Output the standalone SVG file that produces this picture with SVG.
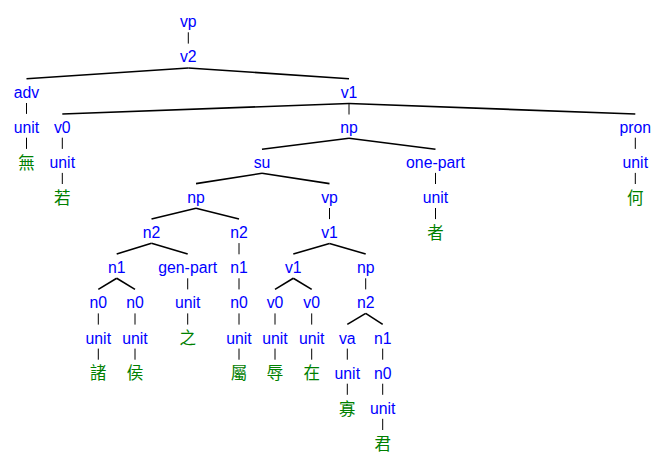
<svg xmlns="http://www.w3.org/2000/svg" width="667" height="462" viewBox="0 0 667 462">
<style>
text{font-family:"Liberation Sans",Arial,Helvetica,sans-serif;font-size:15.8px;text-anchor:middle;fill:#0000ff}
text.w{font-family:"Noto Sans CJK TC","Noto Sans CJK SC",sans-serif;font-size:16.5px;fill:#008000}
.c line{stroke:#000;fill:none}
.c .v{stroke-width:1}
.c .d{stroke-width:1.6}
</style>
<rect width="667" height="462" fill="#fff"/>
<g class="c" id="connectors">
<line class="v" x1="188.3" y1="32.3" x2="188.3" y2="43.6"/>
<line class="d" x1="188.3" y1="68" x2="26.5" y2="78.8"/>
<line class="d" x1="188.3" y1="68" x2="349" y2="78.8"/>
<line class="v" x1="26.5" y1="103" x2="26.5" y2="113.9"/>
<line class="d" x1="349" y1="103.5" x2="62.3" y2="114"/>
<line class="d" x1="349" y1="103.5" x2="635.3" y2="114"/>
<line class="v" x1="349" y1="103.5" x2="349" y2="114.5"/>
<line class="v" x1="26.5" y1="137.7" x2="26.5" y2="148.9"/>
<line class="v" x1="62.3" y1="137.7" x2="62.3" y2="148.9"/>
<line class="d" x1="349" y1="138.3" x2="262" y2="149.2"/>
<line class="d" x1="349" y1="138.3" x2="435.5" y2="149.2"/>
<line class="v" x1="635.3" y1="137.7" x2="635.3" y2="148.9"/>
<line class="v" x1="62.3" y1="172.9" x2="62.3" y2="184"/>
<line class="d" x1="262" y1="173.3" x2="196" y2="183.6"/>
<line class="d" x1="262" y1="173.3" x2="329.5" y2="183.6"/>
<line class="v" x1="435.5" y1="172.9" x2="435.5" y2="184"/>
<line class="v" x1="635.3" y1="172.9" x2="635.3" y2="184"/>
<line class="d" x1="196" y1="208.3" x2="151.5" y2="219"/>
<line class="d" x1="196" y1="208.3" x2="239" y2="219"/>
<line class="v" x1="329.5" y1="208" x2="329.5" y2="219.1"/>
<line class="v" x1="435.5" y1="208" x2="435.5" y2="219.1"/>
<line class="d" x1="151.5" y1="243.3" x2="116.7" y2="254.1"/>
<line class="d" x1="151.5" y1="243.3" x2="187.7" y2="254.1"/>
<line class="v" x1="239" y1="243.1" x2="239" y2="254.3"/>
<line class="d" x1="329.5" y1="243.5" x2="293.3" y2="254.1"/>
<line class="d" x1="329.5" y1="243.5" x2="365.7" y2="254.1"/>
<line class="d" x1="116.7" y1="278.3" x2="98.3" y2="289.4"/>
<line class="d" x1="116.7" y1="278.3" x2="135" y2="289.4"/>
<line class="v" x1="187.7" y1="278.3" x2="187.7" y2="289.4"/>
<line class="v" x1="239" y1="278.3" x2="239" y2="289.4"/>
<line class="d" x1="293.3" y1="278.3" x2="275" y2="289.4"/>
<line class="d" x1="293.3" y1="278.3" x2="311.7" y2="289.4"/>
<line class="v" x1="365.7" y1="278.3" x2="365.7" y2="289.4"/>
<line class="v" x1="98.3" y1="313.4" x2="98.3" y2="324.6"/>
<line class="v" x1="135" y1="313.4" x2="135" y2="324.6"/>
<line class="v" x1="187.7" y1="313.4" x2="187.7" y2="324.6"/>
<line class="v" x1="239" y1="313.4" x2="239" y2="324.6"/>
<line class="v" x1="275" y1="313.4" x2="275" y2="324.6"/>
<line class="v" x1="311.7" y1="313.4" x2="311.7" y2="324.6"/>
<line class="d" x1="365.7" y1="313.4" x2="347.3" y2="324.4"/>
<line class="d" x1="365.7" y1="313.4" x2="382.7" y2="324.4"/>
<line class="v" x1="98.3" y1="348.6" x2="98.3" y2="359.7"/>
<line class="v" x1="135" y1="348.6" x2="135" y2="359.7"/>
<line class="v" x1="239" y1="348.6" x2="239" y2="359.7"/>
<line class="v" x1="275" y1="348.6" x2="275" y2="359.7"/>
<line class="v" x1="311.7" y1="348.6" x2="311.7" y2="359.7"/>
<line class="v" x1="347.3" y1="348.6" x2="347.3" y2="359.7"/>
<line class="v" x1="382.7" y1="348.6" x2="382.7" y2="359.7"/>
<line class="v" x1="347.3" y1="383.7" x2="347.3" y2="394.8"/>
<line class="v" x1="382.7" y1="383.7" x2="382.7" y2="394.8"/>
<line class="v" x1="382.7" y1="418.8" x2="382.7" y2="430"/>
</g>
<g id="n-vp"><text x="188.3" y="27.3">vp</text></g>
<g id="n-v2"><text x="188.3" y="62.4">v2</text></g>
<g id="n-adv"><text x="26.5" y="97.6">adv</text></g>
<g id="n-v1a"><text x="349" y="97.6">v1</text></g>
<g id="n-unit-adv"><text x="26.5" y="132.7">unit</text></g>
<g id="n-v0a"><text x="62.3" y="132.7">v0</text></g>
<g id="n-npa"><text x="349" y="132.7">np</text></g>
<g id="n-pron"><text x="635.3" y="132.7">pron</text></g>
<g id="n-w-wu"><text class="w" x="26.5" y="168.6">無</text></g>
<g id="n-unit-v0a"><text x="62.3" y="167.9">unit</text></g>
<g id="n-su"><text x="262" y="167.9">su</text></g>
<g id="n-onepart"><text x="435.5" y="167.9">one-part</text></g>
<g id="n-unit-pron"><text x="635.3" y="167.9">unit</text></g>
<g id="n-w-ruo"><text class="w" x="62.3" y="203.7">若</text></g>
<g id="n-npb"><text x="196" y="203">np</text></g>
<g id="n-vpb"><text x="329.5" y="203">vp</text></g>
<g id="n-unit-onepart"><text x="435.5" y="203">unit</text></g>
<g id="n-w-he"><text class="w" x="635.3" y="203.7">何</text></g>
<g id="n-n2a"><text x="151.5" y="238.1">n2</text></g>
<g id="n-n2b"><text x="239" y="238.1">n2</text></g>
<g id="n-v1b"><text x="329.5" y="238.1">v1</text></g>
<g id="n-w-zhe"><text class="w" x="435.5" y="238.8">者</text></g>
<g id="n-n1a"><text x="116.7" y="273.3">n1</text></g>
<g id="n-genpart"><text x="187.7" y="273.3">gen-part</text></g>
<g id="n-n1b"><text x="239" y="273.3">n1</text></g>
<g id="n-v1c"><text x="293.3" y="273.3">v1</text></g>
<g id="n-npc"><text x="365.7" y="273.3">np</text></g>
<g id="n-n0a"><text x="98.3" y="308.4">n0</text></g>
<g id="n-n0b"><text x="135" y="308.4">n0</text></g>
<g id="n-unit-genpart"><text x="187.7" y="308.4">unit</text></g>
<g id="n-n0c"><text x="239" y="308.4">n0</text></g>
<g id="n-v0b"><text x="275" y="308.4">v0</text></g>
<g id="n-v0c"><text x="311.7" y="308.4">v0</text></g>
<g id="n-n2c"><text x="365.7" y="308.4">n2</text></g>
<g id="n-unit-n0a"><text x="98.3" y="343.6">unit</text></g>
<g id="n-unit-n0b"><text x="135" y="343.6">unit</text></g>
<g id="n-w-zhi"><text class="w" x="187.7" y="344.3">之</text></g>
<g id="n-unit-n0c"><text x="239" y="343.6">unit</text></g>
<g id="n-unit-v0b"><text x="275" y="343.6">unit</text></g>
<g id="n-unit-v0c"><text x="311.7" y="343.6">unit</text></g>
<g id="n-va"><text x="347.3" y="343.6">va</text></g>
<g id="n-n1c"><text x="382.7" y="343.6">n1</text></g>
<g id="n-w-zhu"><text class="w" x="98.3" y="379.4">諸</text></g>
<g id="n-w-hou"><text class="w" x="135" y="379.4">侯</text></g>
<g id="n-w-shu"><text class="w" x="239" y="379.4">屬</text></g>
<g id="n-w-ru"><text class="w" x="275" y="379.4">辱</text></g>
<g id="n-w-zai"><text class="w" x="311.7" y="379.4">在</text></g>
<g id="n-unit-va"><text x="347.3" y="378.7">unit</text></g>
<g id="n-n0d"><text x="382.7" y="378.7">n0</text></g>
<g id="n-w-gua"><text class="w" x="347.3" y="414.5">寡</text></g>
<g id="n-unit-n0d"><text x="382.7" y="413.8">unit</text></g>
<g id="n-w-jun"><text class="w" x="382.7" y="449.7">君</text></g>
</svg>
